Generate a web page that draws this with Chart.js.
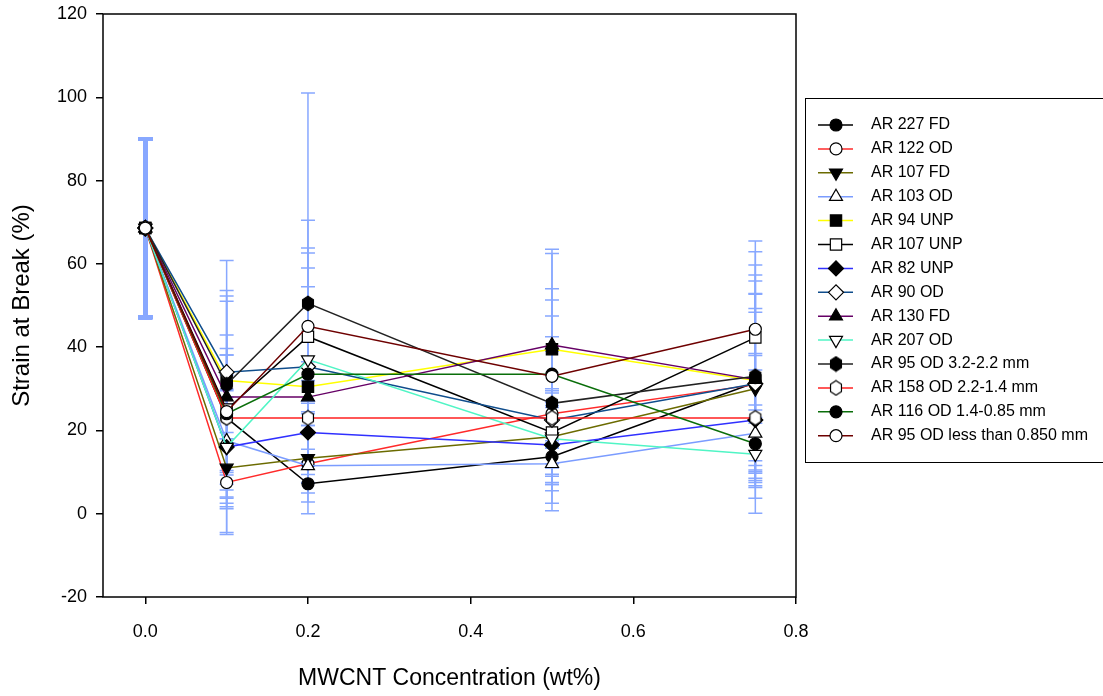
<!DOCTYPE html>
<html lang="en">
<head>
  <meta charset="UTF-8" />
  <title>Strain at Break vs MWCNT Concentration</title>
  <script src="https://cdn.jsdelivr.net/npm/chart.js"></script>
  <style>
    body {
      margin: 0;
      background: #fff;
      overflow: hidden;
    }
    .chart-box {
      position: relative;
      width: 1103px;
      height: 696px;
    }
  </style>
</head>
<body>

  <div class="chart-box">
    <canvas id="strainChart"></canvas>
  </div>

  <script>
    // x positions (wt% MWCNT)
    const concentrations = [0, 0.1, 0.2, 0.5, 0.75];
    const xTickValues = [0, 0.2, 0.4, 0.6, 0.8];
    const yTickValues = [-20, 0, 20, 40, 60, 80, 100, 120];

    const sampleNames = [
      'AR 227 FD', 'AR 122 OD', 'AR 107 FD', 'AR 103 OD', 'AR 94 UNP',
      'AR 107 UNP', 'AR 82 UNP', 'AR 90 OD', 'AR 130 FD', 'AR 207 OD',
      'AR 95 OD 3.2-2.2 mm', 'AR 158 OD 2.2-1.4 mm', 'AR 116 OD 1.4-0.85 mm',
      'AR 95 OD less than 0.850 mm'
    ];

    // strain at break (%)
    const ar227FD    = [68.6, 23.0, 7.2, 13.7, 31.5];
    const ar122OD    = [68.6, 7.5, 12.0, 24.0, 31.0];
    const ar107FD    = [68.6, 11.0, 13.3, 18.5, 30.0];
    const ar103OD    = [68.6, 17.5, 11.5, 12.0, 19.3];
    const ar94UNP    = [68.6, 32.0, 30.5, 39.5, 32.0];
    const ar107UNP   = [68.6, 25.0, 42.5, 19.5, 42.3];
    const ar82UNP    = [68.6, 16.0, 19.5, 16.5, 22.5];
    const ar90OD     = [68.6, 34.0, 35.3, 22.5, 31.2];
    const ar130FD    = [68.6, 28.0, 28.0, 40.5, 32.2];
    const ar207OD    = [68.6, 16.0, 37.0, 18.0, 14.3];
    const ar95OD32   = [68.6, 31.0, 50.5, 26.5, 33.0];
    const ar158OD22  = [68.6, 23.0, 23.0, 23.0, 23.0];
    const ar116OD14  = [68.6, 24.0, 33.5, 33.5, 16.8];
    const ar95ODfine = [68.6, 24.5, 45.0, 33.0, 44.3];

    // error bar half-lengths (%)
    const ar227FDErr    = [21.4, 28.0, 2.2, 13.0, 21.4];
    const ar122ODErr    = [21.4, 12.0, 9.2, 15.0, 18.3];
    const ar107FDErr    = [21.4, 7.0, 6.0, 7.5, 18.4];
    const ar103ODErr    = [21.4, 15.8, 4.0, 5.0, 19.2];
    const ar94UNPErr    = [21.4, 21.6, 6.0, 23.0, 25.3];
    const ar107UNPErr   = [21.4, 17.9, 21.3, 10.0, 20.6];
    const ar82UNPErr    = [21.4, 10.3, 7.0, 9.0, 12.0];
    const ar90ODErr     = [21.4, 4.1, 23.7, 20.0, 21.5];
    const ar130FDErr    = [21.4, 24.3, 4.0, 23.0, 23.7];
    const ar207ODErr    = [21.4, 13.5, 25.6, 11.0, 10.6];
    const ar95OD32Err   = [21.4, 29.8, 50.5, 21.0, 26.7];
    const ar158OD22Err  = [21.4, 5.0, 4.0, 7.0, 15.0];
    const ar116OD14Err  = [21.4, 14.1, 21.0, 17.8, 9.3];
    const ar95ODfineErr = [21.4, 15.2, 25.5, 21.0, 21.2];

    const seriesValues = [ar227FD, ar122OD, ar107FD, ar103OD, ar94UNP, ar107UNP, ar82UNP,
      ar90OD, ar130FD, ar207OD, ar95OD32, ar158OD22, ar116OD14, ar95ODfine];
    const seriesErrors = [ar227FDErr, ar122ODErr, ar107FDErr, ar103ODErr, ar94UNPErr, ar107UNPErr, ar82UNPErr,
      ar90ODErr, ar130FDErr, ar207ODErr, ar95OD32Err, ar158OD22Err, ar116OD14Err, ar95ODfineErr];

    // styles
    const lineColors = ['#000000', '#ff2a2a', '#6b6b00', '#7b9cff', '#ffff00', '#000000', '#3030ff',
      '#0f4d8c', '#660066', '#50f5c5', '#222222', '#ff2020', '#0a6e0a', '#6e0000'];
    const markerKinds = ['circle', 'circle', 'triDown', 'triangle', 'rect', 'rect', 'rectRot',
      'rectRot', 'triangle', 'triDown', 'hexagon', 'hexagon', 'circle', 'circle'];
    const markerFilled = [true, false, true, false, true, false, true,
      false, true, false, true, false, true, false];
    const errorColor = '#88a8ff';
    const fontFamily = '"Liberation Sans", Arial, sans-serif';

    // hexagon markers are drawn on small canvases
    function hexagonImage(filled) {
      const c = document.createElement('canvas');
      c.width = 16; c.height = 17;
      const g = c.getContext('2d');
      g.beginPath();
      for (let k = 0; k < 6; k++) {
        const a = Math.PI / 3 * k;
        const px = 8 + Math.sin(a) * 6.3;
        const py = 8.5 - Math.cos(a) * 7.3;
        k === 0 ? g.moveTo(px, py) : g.lineTo(px, py);
      }
      g.closePath();
      g.fillStyle = filled ? '#000' : '#fff';
      g.fill();
      g.lineWidth = 1.2;
      g.strokeStyle = '#000';
      g.stroke();
      return c;
    }

    function markerStyle(kind, filled) {
      if (kind === 'hexagon') return { style: hexagonImage(filled), rotation: 0, radius: 7 };
      if (kind === 'triDown') return { style: 'triangle', rotation: 180, radius: 7.5 };
      if (kind === 'triangle') return { style: 'triangle', rotation: 0, radius: 7.5 };
      if (kind === 'rect') return { style: 'rect', rotation: 0, radius: 8 };
      if (kind === 'rectRot') return { style: 'rectRot', rotation: 0, radius: 7.5 };
      return { style: 'circle', rotation: 0, radius: 6 };
    }

    const datasets = sampleNames.map((name, i) => {
      const m = markerStyle(markerKinds[i], markerFilled[i]);
      return {
        label: name,
        data: concentrations.map((x, j) => ({ x: x, y: seriesValues[i][j] })),
        errors: seriesErrors[i],
        order: sampleNames.length - i,   // later series drawn on top
        borderColor: lineColors[i],
        borderWidth: 1.5,
        fill: false,
        tension: 0,
        pointStyle: m.style,
        pointRotation: m.rotation,
        pointRadius: m.radius,
        pointBackgroundColor: markerFilled[i] ? '#000' : '#fff',
        pointBorderColor: '#000',
        pointBorderWidth: 1.2
      };
    });

    // vertical error bars with caps, drawn under the lines
    const errorBars = {
      id: 'errorBars',
      beforeDatasetsDraw(chart) {
        const ctx = chart.ctx;
        const xs = chart.scales.x, ys = chart.scales.y;
        // bars shared by many series (the control) come out heavier
        const counts = {};
        chart.data.datasets.forEach(ds => ds.data.forEach((p, j) => {
          const k = p.x + '|' + p.y + '|' + ds.errors[j];
          counts[k] = (counts[k] || 0) + 1;
        }));
        ctx.save();
        ctx.strokeStyle = errorColor;
        chart.data.datasets.forEach(ds => {
          ds.data.forEach((p, j) => {
            const e = ds.errors[j];
            const px = xs.getPixelForValue(p.x);
            const top = ys.getPixelForValue(p.y + e);
            const bot = ys.getPixelForValue(p.y - e);
            ctx.lineWidth = counts[p.x + '|' + p.y + '|' + e] > 3 ? 4 : 1.5;
            ctx.beginPath();
            ctx.moveTo(px, top); ctx.lineTo(px, bot);
            ctx.moveTo(px - 7, top); ctx.lineTo(px + 7, top);
            ctx.moveTo(px - 7, bot); ctx.lineTo(px + 7, bot);
            ctx.stroke();
          });
        });
        ctx.restore();
      }
    };

    // box round the plot area
    const frame = {
      id: 'frame',
      afterDatasetsDraw(chart) {
        const a = chart.chartArea;
        const ctx = chart.ctx;
        ctx.save();
        ctx.strokeStyle = '#000';
        ctx.lineWidth = 1.5;
        ctx.strokeRect(a.left, a.top, a.right - a.left, a.bottom - a.top);
        ctx.restore();
      }
    };

    // legend box with line + marker samples
    const boxLegend = {
      id: 'boxLegend',
      afterDraw(chart) {
        const ctx = chart.ctx;
        const left = 805, top = 98, rowH = 23.9;
        ctx.save();
        ctx.strokeStyle = '#000';
        ctx.lineWidth = 1;
        ctx.strokeRect(left + 0.5, top + 0.5, 320, 364);
        ctx.font = '16px ' + fontFamily;
        ctx.textBaseline = 'middle';
        chart.data.datasets.forEach((ds, i) => {
          const y = top + 27 + i * rowH;
          ctx.strokeStyle = ds.borderColor;
          ctx.lineWidth = 1.5;
          ctx.beginPath();
          ctx.moveTo(818, y); ctx.lineTo(853, y);
          ctx.stroke();
          ctx.fillStyle = ds.pointBackgroundColor;
          ctx.strokeStyle = '#000';
          ctx.lineWidth = 1.2;
          Chart.helpers.drawPoint(ctx, {
            pointStyle: ds.pointStyle,
            rotation: ds.pointRotation,
            radius: ds.pointRadius,
            borderWidth: 1.2
          }, 836, y);
          ctx.fillStyle = '#000';
          ctx.fillText(ds.label, 871, y);
        });
        ctx.restore();
      }
    };

    const ctx = document.getElementById('strainChart').getContext('2d');
    new Chart(ctx, {
      type: 'line',
      data: { datasets: datasets },
      plugins: [errorBars, frame, boxLegend],
      options: {
        responsive: true,
        maintainAspectRatio: false,
        animation: false,
        events: [],
        layout: { padding: { left: 0, top: 14, right: 307, bottom: 0 } },
        plugins: {
          legend: { display: false },
          tooltip: { enabled: false }
        },
        scales: {
          x: {
            type: 'linear',
            min: -0.052,
            max: 0.8,
            afterBuildTicks: s => { s.ticks = xTickValues.map(v => ({ value: v })); },
            afterFit: s => { s.height = 99; s.paddingLeft = 0; s.paddingRight = 0; },
            border: { display: false },
            grid: { drawOnChartArea: false, drawTicks: true, tickLength: 7, color: '#000', lineWidth: 1.5 },
            ticks: {
              color: '#000',
              padding: 17,
              font: { family: fontFamily, size: 18 },
              callback: v => Number(v).toFixed(1)
            },
            title: {
              display: true,
              text: 'MWCNT Concentration (wt%)',
              color: '#000',
              font: { family: fontFamily, size: 23 },
              padding: { top: 0, bottom: 4 }
            }
          },
          y: {
            min: -20,
            max: 120,
            afterBuildTicks: s => { s.ticks = yTickValues.map(v => ({ value: v })); },
            afterFit: s => { s.width = 103; s.paddingTop = 0; s.paddingBottom = 0; },
            border: { display: false },
            grid: { drawOnChartArea: false, drawTicks: true, tickLength: 7, color: '#000', lineWidth: 1.5 },
            ticks: {
              color: '#000',
              padding: 9,
              font: { family: fontFamily, size: 18 }
            },
            title: {
              display: true,
              text: 'Strain at Break (%)',
              color: '#000',
              font: { family: fontFamily, size: 24 },
              padding: { top: 8, bottom: 0 }
            }
          }
        }
      }
    });
  </script>

</body>
</html>
